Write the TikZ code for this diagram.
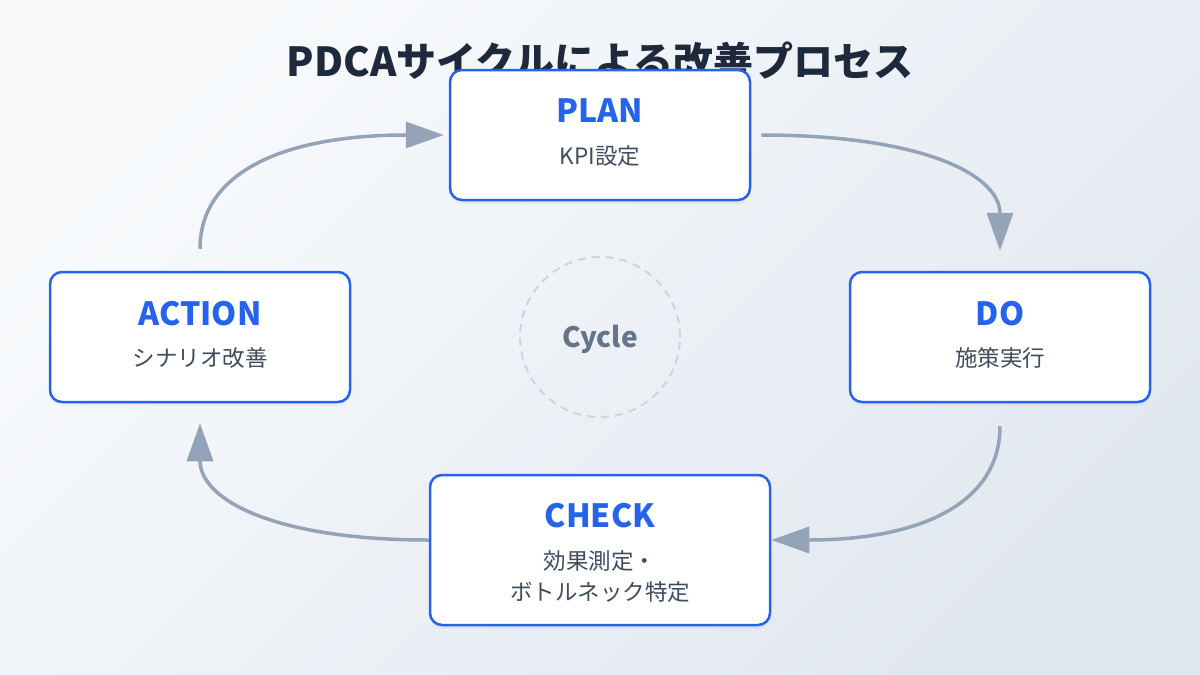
\documentclass[tikz,border=0pt]{standalone}
\usepackage{fontspec}
\setmainfont{Noto Sans CJK JP}
\usetikzlibrary{arrows.meta,calc,shadows}
\definecolor{bgA}{HTML}{F8FAFC}
\definecolor{bgB}{HTML}{E2E8F0}
\definecolor{blueA}{HTML}{2563EB}
\definecolor{titleC}{HTML}{1E293B}
\definecolor{subC}{HTML}{3F4B5E}
\definecolor{arrC}{HTML}{94A3B8}
\definecolor{circC}{HTML}{CBD5E1}
\definecolor{cycC}{HTML}{64748B}
\begin{document}
\begin{tikzpicture}[x=1pt,y=-1pt,
  box/.style={draw=blueA, line width=2.5pt, fill=white, rounded corners=12pt,
    minimum width=300pt, minimum height=130pt,
    drop shadow={opacity=0.07, shadow xshift=0pt, shadow yshift=-4pt}},
  head/.style={font=\fontsize{32}{38}\selectfont\bfseries, text=blueA},
  sub/.style={font=\fontsize{22.5}{31}\selectfont, text=subC, align=center},
  arr/.style={draw=arrC, line width=3.5pt, -{Triangle[length=38pt,width=26pt]}}]
\useasboundingbox (0,0) rectangle (1200,675);
\shade[top color=bgA, bottom color=bgB, shading angle=45] (0,0) rectangle (1200,675);

\node[font=\fontsize{40}{48}\selectfont\bfseries, text=titleC] (title) at (600,61) {PDCAサイクルによる改善プロセス};

% cycle circle
\node[circle, draw=circC, line width=2pt, dash pattern=on 8pt off 6pt, minimum size=160pt] (cyc) at (600,337) {};
\node[font=\fontsize{28}{32}\selectfont\bfseries, text=cycC] (cyct) at (600,339) {Cycle};

% boxes
\node[box] (plan) at (600,135) {};
\node[box] (do) at (1000,337) {};
\node[box] (action) at (200,337) {};
\node[box, minimum width=340pt, minimum height=150pt] (check) at (600,550) {};

\node[head] (planh) at (600,111) {PLAN};
\node[sub] (plans) at (600,156) {KPI設定};
\node[head] (doh) at (1000,314) {DO};
\node[sub] (dos) at (1000,358) {施策実行};
\node[head] (actionh) at (200,314) {ACTION};
\node[sub] (actions) at (200,358) {シナリオ改善};
\node[head] (checkh) at (600,516) {CHECK};
\node[sub] (checks) at (600,576) {効果測定・\\ボトルネック特定};

% connector end points
\coordinate (a1s) at ($(plan.east)+(10,0)$);
\coordinate (a1e) at ($(do.north)+(0,-20)$);
\coordinate (a2s) at ($(do.south)+(0,23)$);
\coordinate (a2e) at ($(check.east)+(0,-10)$);
\coordinate (a3s) at ($(check.west)+(0,-10)$);
\coordinate (a3e) at ($(action.south)+(0,20)$);
\coordinate (a4s) at ($(action.north)+(0,-22)$);
\coordinate (a4e) at ($(plan.west)+(-5,0)$);

\draw[arr] (a1s) .. controls (920,135) and (1000,174) .. (a1e);
\draw[arr] (a2s) .. controls (1000,501.7) and (923.3,540) .. (a2e);
\draw[arr] (a3s) .. controls (276.7,540) and (200,500.7) .. (a3e);
\draw[arr] (a4s) .. controls (200,173.3) and (281.7,135) .. (a4e);
\end{tikzpicture}
\end{document}
